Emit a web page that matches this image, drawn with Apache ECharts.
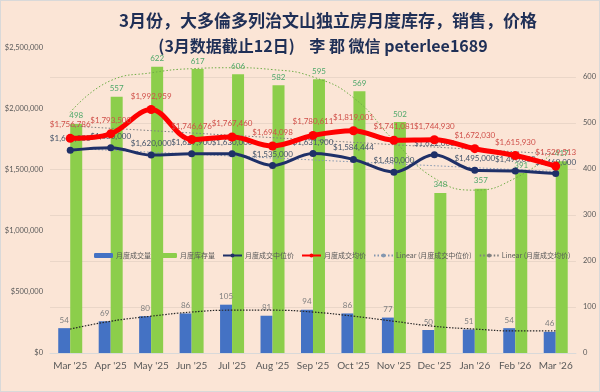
<!DOCTYPE html>
<html>
<head>
<meta charset="utf-8">
<script src="https://cdn.jsdelivr.net/npm/echarts@6/dist/echarts.min.js"></script>
<style>
html,body{margin:0;padding:0;background:#FBE5D6;}
#c{width:600px;height:392px;box-sizing:border-box;border:1px solid #d9d9d9;}
</style>
</head>
<body>
<div id="c"></div>
<script>
const categories = ["Mar '25","Apr '25","May '25","Jun '25","Jul '25","Aug '25","Sep '25","Oct '25","Nov '25","Dec '25","Jan '26","Feb '26","Mar '26"];
const sales = [54, 69, 80, 86, 105, 81, 94, 86, 77, 50, 51, 54, 46];
const inventory = [498, 557, 622, 617, 606, 582, 595, 569, 502, 348, 357, 391, 417];
const medianPrice = [1660000, 1680000, 1620000, 1629900, 1630000, 1535000, 1631900, 1584444, 1480000, 1622000, 1495000, 1490000, 1469000];
const avgPrice = [1756786, 1793500, 1992959, 1746676, 1767460, 1694098, 1780611, 1819001, 1741081, 1744930, 1672030, 1615930, 1529513];
// trend lines
const inventoryTrend = [523, 592, 609, 618, 620, 616, 600, 555, 462, 380, 354, 380, 440];
const salesTrend = [52, 69, 80, 89, 93, 93, 89, 80, 69, 58, 52, 48, 48];
const medianTrendEnds = [1675000, 1485000];
const avgTrendEnds = [1858000, 1628000];
const leftTicks = { min: 0, max: 2500000, interval: 500000 };
const rightTicks = { min: 0, max: 664, interval: 100 };

const last = categories.length - 1;
const ends = e => categories.map((_, i) => i === 0 ? e[0] : (i === last ? e[1] : null));
const money = v => '$' + Math.round(v).toLocaleString('en-US');

const chart = echarts.init(document.getElementById('c'), null, {renderer: 'canvas'});
const numFont = 'Lato, "Noto Sans", sans-serif';
chart.setOption({
  backgroundColor: '#FBE5D6',
  animation: false,
  graphic: [
    {type: 'text', x: 327, y: 20, style: {text: '3月份，大多倫多列治文山独立房月度库存，销售，价格', textAlign: 'center', textVerticalAlign: 'middle', font: 'bold 17px "Noto Sans CJK SC"', fill: '#1F2F56'}},
    {type: 'text', x: 322, y: 45, style: {text: '(3月数据截止12日)    李 郡 微信 peterlee1689', textAlign: 'center', textVerticalAlign: 'middle', font: 'bold 16px "Noto Sans CJK SC"', fill: '#1F2F56'}}
  ],
  grid: {left: 49, right: 22, top: 46.5, bottom: 38, containLabel: false},
  legend: {
    left: 88, top: 246, width: 510, itemWidth: 19, itemHeight: 5, itemGap: 7,
    textStyle: {fontSize: 7, color: '#595959', fontFamily: '"Noto Sans CJK SC", sans-serif', padding: [0, 0, 0, -2]},
    data: ['月度成交量', '月度库存量', '月度成交中位价', '月度成交均价', 'Linear (月度成交中位价)', 'Linear (月度成交均价)']
  },
  xAxis: {
    type: 'category', data: categories,
    axisLine: {lineStyle: {color: '#D9D9D9'}}, axisTick: {show: false},
    axisLabel: {fontSize: 10, color: '#595959', margin: 8, fontFamily: numFont, interval: 0}
  },
  yAxis: [
    {type: 'value', min: leftTicks.min, max: leftTicks.max, interval: leftTicks.interval,
     axisLabel: {fontSize: 7.5, color: '#595959', margin: 7, fontFamily: numFont, formatter: money},
     axisLine: {show: false}, axisTick: {show: false}, splitLine: {show: false}},
    {type: 'value', min: rightTicks.min, max: rightTicks.max, interval: rightTicks.interval,
     axisLabel: {fontSize: 7.5, color: '#595959', margin: 7, fontFamily: numFont, showMaxLabel: false},
     axisLine: {show: false}, axisTick: {show: false},
     splitLine: {show: true, showMaxLine: false, showMinLine: false, lineStyle: {color: '#EAD6C8', width: 1}}}
  ],
  series: [
    {name: '月度成交量', type: 'bar', yAxisIndex: 1, data: sales, barWidth: 12, barGap: '0%',
     itemStyle: {color: '#4472C4'},
     label: {show: true, position: 'top', fontSize: 8, color: '#7F7F7F', fontFamily: numFont, distance: 4}},
    {name: '月度库存量', type: 'bar', yAxisIndex: 1, data: inventory, barWidth: 12, barGap: '0%',
     itemStyle: {color: '#8CCE4B'},
     label: {show: true, position: 'top', fontSize: 8, color: '#4FA86A', fontFamily: numFont, distance: 4}},
    {name: 'inventoryTrend', type: 'line', yAxisIndex: 1, data: inventoryTrend, smooth: true, symbol: 'none',
     lineStyle: {color: '#70AD47', width: 1, type: [1.5, 2]}, z: 3, silent: true},
    {name: 'salesTrend', type: 'line', yAxisIndex: 1, data: salesTrend, smooth: true, symbol: 'none',
     lineStyle: {color: '#262626', width: 1.2, type: [1.5, 1.5]}, z: 3, silent: true},
    {name: 'Linear (月度成交中位价)', type: 'line', yAxisIndex: 0, data: ends(medianTrendEnds), connectNulls: true, symbol: 'none',
     lineStyle: {color: '#8497B0', width: 1, type: [1.5, 2]}, itemStyle: {color: '#8497B0'}, z: 3},
    {name: 'Linear (月度成交均价)', type: 'line', yAxisIndex: 0, data: ends(avgTrendEnds), connectNulls: true, symbol: 'none',
     lineStyle: {color: '#7F7F7F', width: 1, type: [1.5, 2]}, itemStyle: {color: '#7F7F7F'}, z: 3},
    {name: '月度成交中位价', type: 'line', yAxisIndex: 0, data: medianPrice, smooth: 0.35,
     symbol: 'circle', symbolSize: 7, itemStyle: {color: '#1F3068'}, lineStyle: {color: '#1F3068', width: 3}, z: 5,
     label: {show: true, position: 'top', distance: 4, fontSize: 8, color: '#44546A', fontFamily: numFont, formatter: p => money(p.value)}},
    {name: '月度成交均价', type: 'line', yAxisIndex: 0, data: avgPrice, smooth: 0.35,
     symbol: 'circle', symbolSize: 9, itemStyle: {color: '#FF0000'}, lineStyle: {color: '#FF0000', width: 5}, z: 6,
     label: {show: true, position: 'top', distance: 5, fontSize: 8, color: '#D0504A', fontFamily: numFont, formatter: p => money(p.value)}}
  ]
});
</script>
</body>
</html>
